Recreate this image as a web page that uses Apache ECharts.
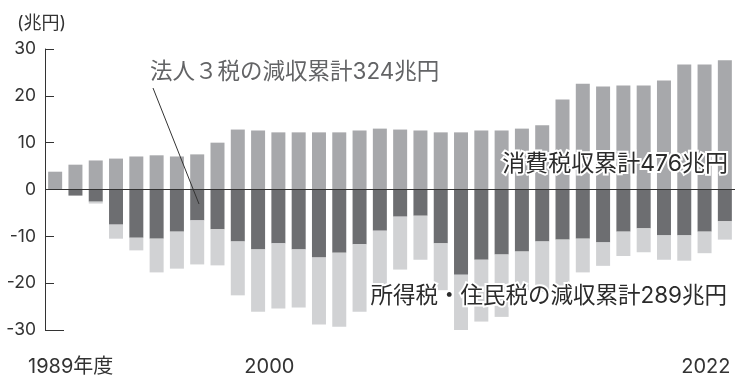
<!DOCTYPE html>
<html><head><meta charset="utf-8">
<script src="https://cdn.jsdelivr.net/npm/echarts@6/dist/echarts.min.js"></script>
<style>html,body{margin:0;padding:0;background:#fff}#c{width:735px;height:379px}</style>
</head><body><div id="c"></div>
<script>
const years = ['1989','1990','1991','1992','1993','1994','1995','1996','1997','1998','1999','2000','2001','2002','2003','2004','2005','2006','2007','2008','2009','2010','2011','2012','2013','2014','2015','2016','2017','2018','2019','2020','2021','2022'];
// 消費税収 (兆円)
const consumption = [3.8,5.3,6.2,6.6,7.05,7.3,7.05,7.5,10.0,12.8,12.6,12.2,12.2,12.2,12.2,12.6,13.0,12.8,12.6,12.2,12.2,12.6,12.6,13.0,13.7,19.2,22.6,22.0,22.2,22.2,23.3,26.7,26.7,27.6];
// 法人3税の減収 (兆円)
const corporate = [0,-1.3,-2.6,-7.5,-10.3,-10.5,-9.0,-6.6,-8.5,-11.1,-12.8,-11.5,-12.8,-14.5,-13.5,-11.7,-8.8,-5.8,-5.6,-11.5,-18.2,-15.0,-13.9,-13.25,-11.1,-10.7,-10.5,-11.3,-9.0,-8.3,-9.8,-9.8,-9.0,-6.8];
// 所得税・住民税の減収 (兆円)
const income = [0,0,-0.4,-3.0,-2.7,-7.2,-7.9,-9.4,-7.7,-11.5,-13.3,-13.9,-12.4,-14.3,-15.8,-14.4,-11.7,-11.3,-9.4,-10.0,-12.6,-13.2,-13.3,-8.25,-10.7,-11.1,-7.2,-5.0,-5.2,-5.1,-5.2,-5.4,-4.6,-3.9];
const xLabelIndices = [0, 11, 33];
const xLabelTexts = ['1989年度', '2000', '2022'];
const yMin = -30, yMax = 30, yStep = 10;
const unitLabel = '(兆円)';
const corpLabel = '法人３税の減収累計324兆円';
const consLabel = '消費税収累計476兆円';
const incomeLabel = '所得税・住民税の減収累計289兆円';

const FF = 'Inter, "Noto Sans CJK JP", sans-serif';
const chart = echarts.init(document.getElementById('c'), null, {renderer: 'canvas'});
const richKeys = ['a', 'b', 'c'];
const xl = {color: '#333', fontSize: 20, fontFamily: FF};
chart.setOption({
  animation: false,
  grid: {left: 45, right: -2, top: 49, bottom: 49, containLabel: false},
  xAxis: {
    type: 'category', data: years,
    axisLine: {show: false, onZero: false},
    axisTick: {show: false},
    axisLabel: {
      interval: (i) => xLabelIndices.indexOf(i) >= 0,
      formatter: (v, i) => {
        const k = xLabelIndices.indexOf(i);
        return k >= 0 ? '{' + richKeys[k] + '|' + xLabelTexts[k] + '}' : '';
      },
      margin: 27, color: '#333', fontSize: 20, fontFamily: FF,
      rich: {
        a: Object.assign({padding: [0, 0, 0, 31]}, xl),
        b: Object.assign({padding: [0, 18, 0, 0]}, xl),
        c: Object.assign({padding: [0, 38, 0, 0]}, xl)
      }
    }
  },
  yAxis: [{
    type: 'value', min: yMin, max: yMax, interval: yStep,
    axisLine: {show: true, lineStyle: {color: '#333', width: 1}},
    axisTick: {show: true, inside: true, length: 9, lineStyle: {color: '#333'}},
    axisLabel: {color: '#333', fontSize: 17.5, fontFamily: FF, margin: 9},
    splitLine: {show: false}
  }, {
    type: 'value', min: yMin, max: yMax, position: 'left',
    axisLine: {show: false},
    axisTick: {show: true, inside: true, length: 19, customValues: [yMin], lineStyle: {color: '#333'}},
    axisLabel: {show: false},
    splitLine: {show: false}
  }],
  series: [
    {type: 'bar', name: '消費税', stack: 'tax', data: consumption, barWidth: 14, itemStyle: {color: '#a7a8ab'}},
    {type: 'bar', name: '法人3税', stack: 'tax', data: corporate, barWidth: 14, itemStyle: {color: '#6d6e71'}},
    {type: 'bar', name: '所得税・住民税', stack: 'tax', data: income, barWidth: 14, itemStyle: {color: '#d1d2d4'},
      markLine: {silent: true, symbol: 'none', label: {show: false}, lineStyle: {color: '#333', width: 1, type: 'solid'}, data: [{yAxis: 0}]}}
  ],
  graphic: [
    {type: 'text', x: 17, y: 24, style: {text: unitLabel, fill: '#333', font: '18px ' + FF, textVerticalAlign: 'middle'}},
    {type: 'line', shape: {x1: 153, y1: 88, x2: 199, y2: 204}, style: {stroke: '#333', lineWidth: 1}, z: 100},
    {type: 'text', x: 150, y: 72, style: {text: corpLabel, fill: '#636466', font: '22.5px ' + FF, textVerticalAlign: 'middle'}, z: 100},
    {type: 'text', x: 728, y: 164, style: {text: consLabel, fill: '#2b2b2b', stroke: '#fff', lineWidth: 4, font: '23px ' + FF, textAlign: 'right', textVerticalAlign: 'middle'}, z: 100},
    {type: 'text', x: 727, y: 296, style: {text: incomeLabel, fill: '#2b2b2b', stroke: '#fff', lineWidth: 4, font: '22.5px ' + FF, textAlign: 'right', textVerticalAlign: 'middle'}, z: 100}
  ]
});
</script></body></html>
